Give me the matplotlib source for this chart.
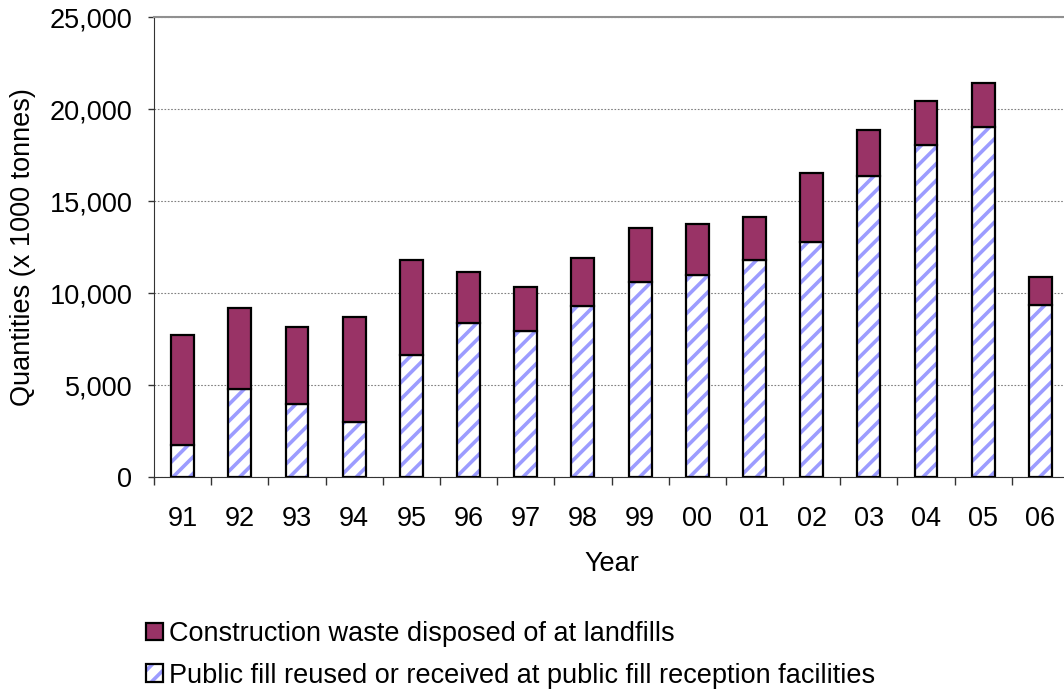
""" Construction waste / public fill stacked bars
"""
import matplotlib.pyplot as plt
import numpy as np
from matplotlib.patches import Patch
from matplotlib.legend_handler import HandlerTuple
from matplotlib.ticker import FuncFormatter, MultipleLocator

# data (x 1000 tonnes)
years = ['91', '92', '93', '94', '95', '96', '97', '98',
         '99', '00', '01', '02', '03', '04', '05', '06']
public_fill = [1780, 4780, 3970, 3020, 6650, 8370, 7970, 9330,
               10630, 11010, 11810, 12800, 16380, 18040, 19020, 9380]
total = [7730, 9180, 8150, 8710, 11810, 11140, 10360, 11930,
         13530, 13770, 14150, 16520, 18850, 20470, 21450, 10900]
landfill = [t - p for t, p in zip(total, public_fill)]

lab_landfill = 'Construction waste disposed of at landfills'
lab_fill = 'Public fill reused or received at public fill reception facilities'

# plot config
fsize = 19.5
c_land = '#993366'
c_hatch = '#9c9cff'
bar_w = 0.4
plt.rcParams['font.family'] = ['Liberation Sans', 'DejaVu Sans']
plt.rcParams['hatch.linewidth'] = 2.6
plt.rcParams['hatch.color'] = c_hatch

fig = plt.figure(figsize=(10.64, 6.90), dpi=100)
ax = fig.add_axes([154/1064, 1-477.3/690, 915/1064, 460/690])
x = np.arange(len(years))

# public fill: hatch layer then black outline
ax.bar(x, public_fill, bar_w, color='white', edgecolor=c_hatch, hatch='//',
       linewidth=0, zorder=3)
ax.bar(x, public_fill, bar_w, fill=False, edgecolor='black', linewidth=1.6, zorder=4)
ax.bar(x, landfill, bar_w, bottom=public_fill, color=c_land, edgecolor='black',
       linewidth=1.6, zorder=4)

ax.set_xlim(-0.5, len(years) - 0.5)
ax.set_ylim(0, 25000)
ax.yaxis.set_major_locator(MultipleLocator(5000))
ax.yaxis.set_major_formatter(FuncFormatter(lambda v, p: '{:,.0f}'.format(v)))
ax.set_xticks(x)
ax.set_xticklabels(years)
ax.set_xticks(np.arange(-0.5, len(years)), minor=True)
ax.tick_params(axis='x', which='major', length=0, pad=21, labelsize=fsize)
ax.tick_params(axis='x', which='minor', length=6, width=1, color='#333333')
ax.tick_params(axis='y', length=4.5, width=1, color='#333333', labelsize=fsize, pad=11)
ax.grid(axis='y', linestyle=(0, (1.5, 1.5)), color='#808080', linewidth=0.8, zorder=0)

ax.spines['top'].set_color('#909090')
ax.spines['top'].set_linewidth(1.5)
ax.spines['right'].set_visible(False)
ax.spines['left'].set_color('#333333')
ax.spines['bottom'].set_color('#333333')

ax.set_xlabel('Year', fontsize=fsize, labelpad=13)
ax.set_ylabel('Quantities (x 1000 tonnes)', fontsize=fsize, labelpad=10)

# legend
h_land = Patch(facecolor=c_land, edgecolor='black', linewidth=1.6)
h_fill = (Patch(facecolor='white', edgecolor=c_hatch, hatch='//', linewidth=0),
          Patch(fill=False, edgecolor='black', linewidth=1.6))
fig.legend([h_land, h_fill], [lab_landfill, lab_fill],
           handler_map={tuple: HandlerTuple(ndivide=1, pad=0)},
           loc='upper left', bbox_to_anchor=(146/1064, 1-621/690),
           frameon=False, fontsize=fsize, handlelength=0.62, handleheight=0.62,
           handletextpad=0.22, labelspacing=0.58, borderaxespad=0, borderpad=0)

fig.savefig('out.png', dpi=100)
